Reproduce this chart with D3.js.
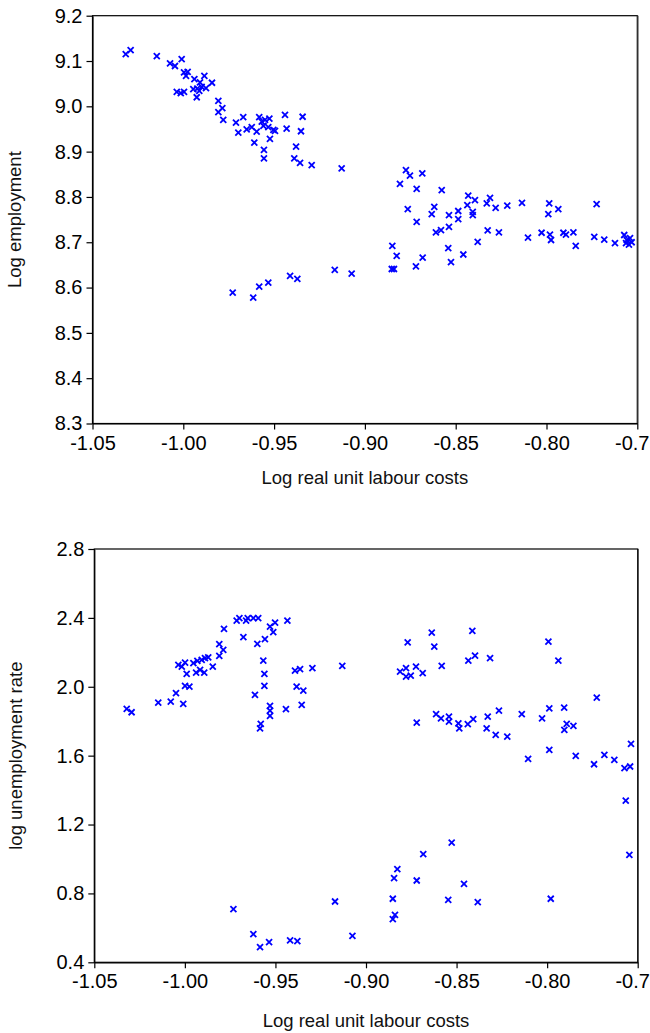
<!DOCTYPE html>
<html>
<head>
<meta charset="utf-8">
<script src="https://cdn.jsdelivr.net/npm/d3@7"></script>
<style>
  body { margin: 0; background: #fff; }
  svg { display: block; font-family: "Liberation Sans", Arial, sans-serif; }
  .axis text { font-size: 20px; fill: #000; }
  .axis path, .axis line { stroke: #000; stroke-width: 1.2; }
  .title { font-size: 18.5px; fill: #111; }
  .mark { stroke: #0000ff; stroke-width: 1.8; fill: none; }
</style>
</head>
<body>
<div id="chart"></div>
<script>
// x is log real unit labour costs, same series on both panels
var empX = [-1.0317, -1.0290, -1.0146, -1.0073, -1.0046, -1.0009, -0.9996, -0.9976, -0.9985, -0.9939,
  -0.9884, -0.9908, -0.9842, -0.9945, -0.9923, -0.9899, -0.9875, -0.9912, -1.0036, -1.0014,
  -0.9996, -0.9926, -0.9807, -0.9785, -0.9807, -0.9780, -0.9710, -0.9670, -0.9697, -0.9651,
  -0.9623, -0.9596, -0.9582, -0.9568, -0.9550, -0.9526, -0.9559, -0.9532, -0.9504, -0.9523,
  -0.9495, -0.9609, -0.9556, -0.9556, -0.9440, -0.9431, -0.9343, -0.9352, -0.9379, -0.9389,
  -0.9357, -0.9293, -0.9128, -0.8774, -0.8752, -0.8684, -0.8807, -0.8715, -0.8577, -0.8764,
  -0.8715, -0.8618, -0.8632, -0.8537, -0.8486, -0.8486, -0.8537, -0.8431, -0.8394, -0.8436,
  -0.8406, -0.8406, -0.8329, -0.8311, -0.8280, -0.8216, -0.8135, -0.7985, -0.7990, -0.7935,
  -0.7724, -0.8609, -0.8581, -0.8324, -0.8262, -0.8102, -0.8027, -0.7981, -0.7975, -0.7907,
  -0.7893, -0.7852, -0.7839, -0.7737, -0.7682, -0.7623, -0.7572, -0.7558, -0.7540, -0.7546,
  -0.7531, -0.7562, -0.8379, -0.8541, -0.8458, -0.8526, -0.8682, -0.8719, -0.8849, -0.8825,
  -0.8852, -0.8840, -0.9166, -0.9073, -0.9728, -0.9615, -0.9582, -0.9532, -0.9412, -0.9372];

var empY = [9.115, 9.124, 9.111, 9.095, 9.089, 9.104, 9.075, 9.076, 9.067, 9.060,
  9.067, 9.053, 9.052, 9.038, 9.039, 9.043, 9.040, 9.034, 9.032, 9.029,
  9.032, 9.020, 9.012, 8.996, 8.987, 8.970, 8.964, 8.976, 8.942, 8.949,
  8.954, 8.944, 8.976, 8.966, 8.970, 8.973, 8.957, 8.954, 8.948, 8.928,
  8.946, 8.920, 8.904, 8.885, 8.981, 8.951, 8.977, 8.945, 8.911, 8.885,
  8.875, 8.870, 8.863, 8.859, 8.847, 8.852, 8.829, 8.818, 8.815, 8.773,
  8.745, 8.778, 8.762, 8.760, 8.769, 8.751, 8.734, 8.803, 8.793, 8.782,
  8.767, 8.760, 8.786, 8.798, 8.776, 8.781, 8.787, 8.786, 8.762, 8.773,
  8.784, 8.722, 8.727, 8.726, 8.722, 8.710, 8.721, 8.717, 8.705, 8.721,
  8.717, 8.722, 8.692, 8.712, 8.706, 8.698, 8.716, 8.705, 8.709, 8.695,
  8.700, 8.698, 8.701, 8.687, 8.673, 8.656, 8.666, 8.647, 8.692, 8.670,
  8.641, 8.641, 8.639, 8.631, 8.589, 8.578, 8.602, 8.611, 8.626, 8.619];

var unX = [-1.0321, -1.0294, -1.0147, -1.0078, -1.0009, -1.0049, -0.9999, -0.9975, -0.9990, -1.0036,
  -1.0017, -0.9999, -0.9938, -0.9893, -0.9916, -0.9953, -0.9931, -0.9907, -0.9889, -0.9871,
  -0.9846, -0.9810, -0.9788, -0.9810, -0.9784, -0.9714, -0.9699, -0.9662, -0.9653, -0.9622,
  -0.9595, -0.9677, -0.9600, -0.9558, -0.9530, -0.9502, -0.9512, -0.9434, -0.9567, -0.9561,
  -0.9561, -0.9613, -0.9530, -0.9530, -0.9530, -0.9581, -0.9585, -0.9442, -0.9392, -0.9364,
  -0.9296, -0.9383, -0.9346, -0.9355, -0.9131, -0.8770, -0.8637, -0.8623, -0.8413, -0.8812,
  -0.8779, -0.8724, -0.8779, -0.8753, -0.8687, -0.8582, -0.8435, -0.8398, -0.8315, -0.7993,
  -0.7938, -0.8720, -0.8613, -0.8586, -0.8542, -0.8542, -0.8490, -0.8485, -0.8438, -0.8408,
  -0.8328, -0.8334, -0.8284, -0.8266, -0.8220, -0.8140, -0.8028, -0.7988, -0.7906, -0.7892,
  -0.7855, -0.7905, -0.7726, -0.8105, -0.7988, -0.7842, -0.7741, -0.7684, -0.7629, -0.7573,
  -0.7542, -0.7537, -0.7566, -0.7546, -0.9171, -0.9075, -0.8852, -0.8845, -0.8827, -0.8852,
  -0.8840, -0.8720, -0.8684, -0.8527, -0.8546, -0.8459, -0.8383, -0.7980, -0.9732, -0.9622,
  -0.9585, -0.9535, -0.9419, -0.9379];

var unY = [1.871, 1.852, 1.908, 1.914, 1.900, 1.963, 2.005, 2.001, 2.075, 2.127,
  2.117, 2.140, 2.082, 2.082, 2.098, 2.137, 2.150, 2.156, 2.166, 2.171,
  2.117, 2.179, 2.214, 2.247, 2.336, 2.384, 2.398, 2.384, 2.398, 2.398,
  2.398, 2.288, 2.249, 2.276, 2.349, 2.372, 2.317, 2.384, 2.152, 2.075,
  2.005, 1.953, 1.889, 1.862, 1.831, 1.784, 1.759, 1.870, 2.094, 2.102,
  2.108, 2.001, 1.978, 1.895, 2.121, 2.258, 2.314, 2.233, 2.324, 2.088,
  2.108, 2.117, 2.059, 2.065, 2.079, 2.121, 2.152, 2.181, 2.166, 2.262,
  2.152, 1.792, 1.841, 1.817, 1.827, 1.798, 1.788, 1.759, 1.783, 1.812,
  1.827, 1.759, 1.720, 1.862, 1.711, 1.841, 1.817, 1.875, 1.879, 1.784,
  1.773, 1.750, 1.937, 1.581, 1.633, 1.599, 1.550, 1.604, 1.575, 1.527,
  1.537, 1.668, 1.339, 1.024, 0.753, 0.554, 0.769, 0.889, 0.941, 0.651,
  0.676, 0.875, 1.028, 1.095, 0.763, 0.856, 0.750, 0.769, 0.709, 0.564,
  0.488, 0.517, 0.527, 0.523];

var xTicks = [-1.05, -1.00, -0.95, -0.90, -0.85, -0.80, -0.75];
var empTicks = [8.3, 8.4, 8.5, 8.6, 8.7, 8.8, 8.9, 9.0, 9.1, 9.2];
var unTicks = [0.4, 0.8, 1.2, 1.6, 2.0, 2.4, 2.8];

var width = 650, height = 1033;

var svg = d3.select("#chart").append("svg")
    .attr("width", width)
    .attr("height", height);

function panel(opts) {
    var x = d3.scaleLinear().domain([-1.05, -0.75]).range([opts.left, opts.right]),
        y = d3.scaleLinear().domain(opts.ydomain).range([opts.bottom, opts.top]);

    var g = svg.append("g");

    // frame
    g.append("rect")
        .attr("x", opts.left)
        .attr("y", opts.top)
        .attr("width", opts.right - opts.left)
        .attr("height", opts.bottom - opts.top)
        .attr("fill", "none")
        .attr("stroke", "#000")
        .attr("stroke-width", 1.2);
    // right edge looks heavier in the original
    g.append("line")
        .attr("x1", opts.right + 0.8).attr("x2", opts.right + 0.8)
        .attr("y1", opts.top).attr("y2", opts.bottom)
        .attr("stroke", "#555").attr("stroke-width", 1);

    // plain hyphen for negatives, like the original
    g.append("g")
        .attr("class", "axis")
        .attr("transform", "translate(0," + opts.bottom + ")")
        .call(d3.axisBottom(x)
            .tickValues(xTicks)
            .tickFormat(function (d) { return d.toFixed(2); })
            .tickSize(6)
            .tickSizeOuter(0)
            .tickPadding(6));

    g.append("g")
        .attr("class", "axis")
        .attr("transform", "translate(" + opts.left + ",0)")
        .call(d3.axisLeft(y)
            .tickValues(opts.yticks)
            .tickFormat(function (d) { return d.toFixed(1); })
            .tickSize(6)
            .tickSizeOuter(0)
            .tickPadding(4));

    g.selectAll(".mark")
        .data(opts.xs)
        .enter().append("path")
        .attr("class", "mark")
        .attr("d", "M-3,-3L3,3M-3,3L3,-3")
        .attr("transform", function (d, i) {
            return "translate(" + x(d) + "," + y(opts.ys[i]) + ")";
        });

    g.append("text")
        .attr("class", "title")
        .attr("x", (opts.left + opts.right) / 2)
        .attr("y", opts.xtitleY)
        .attr("text-anchor", "middle")
        .text("Log real unit labour costs");

    g.append("text")
        .attr("class", "title")
        .attr("text-anchor", "middle")
        .attr("transform", "translate(" + opts.ytitleX + "," + (opts.top + opts.bottom) / 2 + ")rotate(-90)")
        .text(opts.ytitle);
}

panel({
    left: 92.5, right: 637.3, top: 15.7, bottom: 423.5,
    ydomain: [8.3, 9.2], yticks: empTicks,
    xs: empX, ys: empY,
    xtitleY: 484, ytitleX: 21,
    ytitle: "Log employment"
});

panel({
    left: 94.3, right: 637.7, top: 549, bottom: 962.3,
    ydomain: [0.4, 2.8], yticks: unTicks,
    xs: unX, ys: unY,
    xtitleY: 1027, ytitleX: 22,
    ytitle: "log unemployment rate"
});
</script>
</body>
</html>
